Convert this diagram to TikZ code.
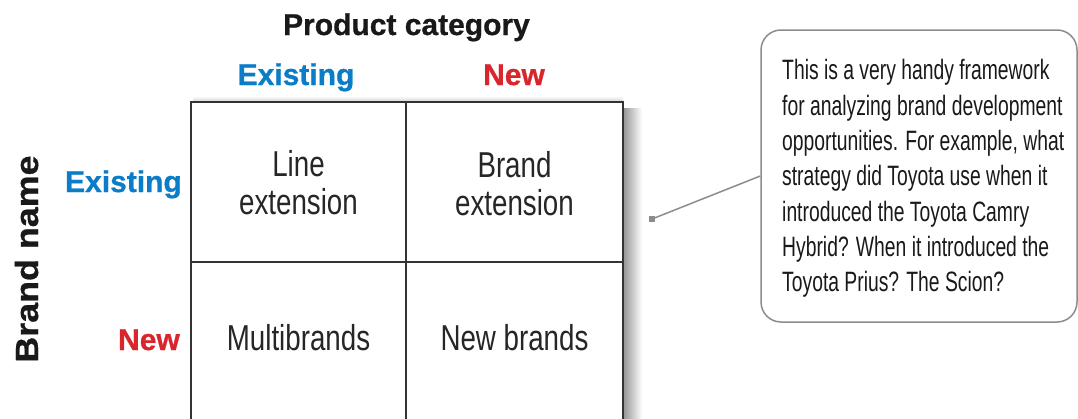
\documentclass[tikz,border=0pt]{standalone}
\usepackage{fontspec}
\setmainfont{Liberation Sans}
\newfontfamily\cellfont[FakeStretch=0.77]{Liberation Sans}
\newfontfamily\notefont[FakeStretch=0.69]{Liberation Sans}
\newfontfamily\hdrfont[FakeBold=0.8]{Liberation Sans Bold}
\newfontfamily\brandfont[FakeStretch=1.12,FakeBold=0.8]{Liberation Sans Bold}
\definecolor{blueC}{HTML}{0B7DC8}
\definecolor{redC}{HTML}{D9262C}
\begin{document}
\begin{tikzpicture}[x=1pt,y=-1pt,
  hdr/.style={font=\hdrfont\fontsize{30}{36}\selectfont, inner sep=0pt, text=black!90},
  celltxt/.style={font=\cellfont\fontsize{36}{38}\selectfont, align=center, inner sep=0pt, text=black!85},
  gridline/.style={draw=black!80, line width=2pt},
  connector/.style={draw=black!45, line width=1.5pt},
]
\useasboundingbox (0,0) rectangle (1078,418);
\begin{scope}
  \clip (0,0) rectangle (1078,418);
  \shade[left color=black!40, right color=white] (624,108) rectangle (642,430);
  \shade[top color=white, bottom color=black!15] (193,96) rectangle (623,101);
  \fill[white] (191,102) rectangle (623,430);
  \draw[gridline] (191,102) rectangle (623,430);
  \draw[gridline] (406,102) -- (406,430);
  \draw[gridline] (191,262) -- (623,262);
\end{scope}
% cell texts
\node[celltxt, anchor=north] (le) at (298.5,150) {Line\\extension};
\node[celltxt, anchor=north] (bx) at (514.5,151) {Brand\\extension};
\node[celltxt, anchor=base] (mb) at (298.5,350) {Multibrands};
\node[celltxt, anchor=base] (nb) at (514.5,350) {New brands};
% headers
\node[hdr, anchor=base] (pc) at (406.5,35) {Product category};
\node[hdr, anchor=base, text=blueC] (pe) at (296,85) {Existing};
\node[hdr, anchor=base, text=redC] (pn) at (514,85) {New};
\node[hdr, anchor=base east, text=blueC] (ne) at (182,192) {Existing};
\node[hdr, anchor=base east, text=redC] (nn) at (180,350) {New};
\node[font=\brandfont\fontsize{32}{36}\selectfont, text=black!90, inner sep=0pt, rotate=90, anchor=base] (bname) at (38,259) {Brand name};
% callout
\node[draw=black!45, line width=1.5pt, rounded corners=20pt, minimum width=316pt, minimum height=292pt, inner sep=0pt, fill=white] (note) at (919,176) {};
\node[font=\notefont\fontsize{28}{35.3}\selectfont, align=left, anchor=north west, inner sep=0pt, text=black!90] (ntext) at (782,59.5) {This is a very handy framework\\for analyzing brand development\\opportunities. For example, what\\strategy did Toyota use when it\\introduced the Toyota Camry\\Hybrid? When it introduced the\\Toyota Prius? The Scion?};
\node[fill=black!45, minimum size=6pt, inner sep=0pt] (sq) at (652,219) {};
\draw[connector] (sq.center) -- (note.west);
\end{tikzpicture}
\end{document}
